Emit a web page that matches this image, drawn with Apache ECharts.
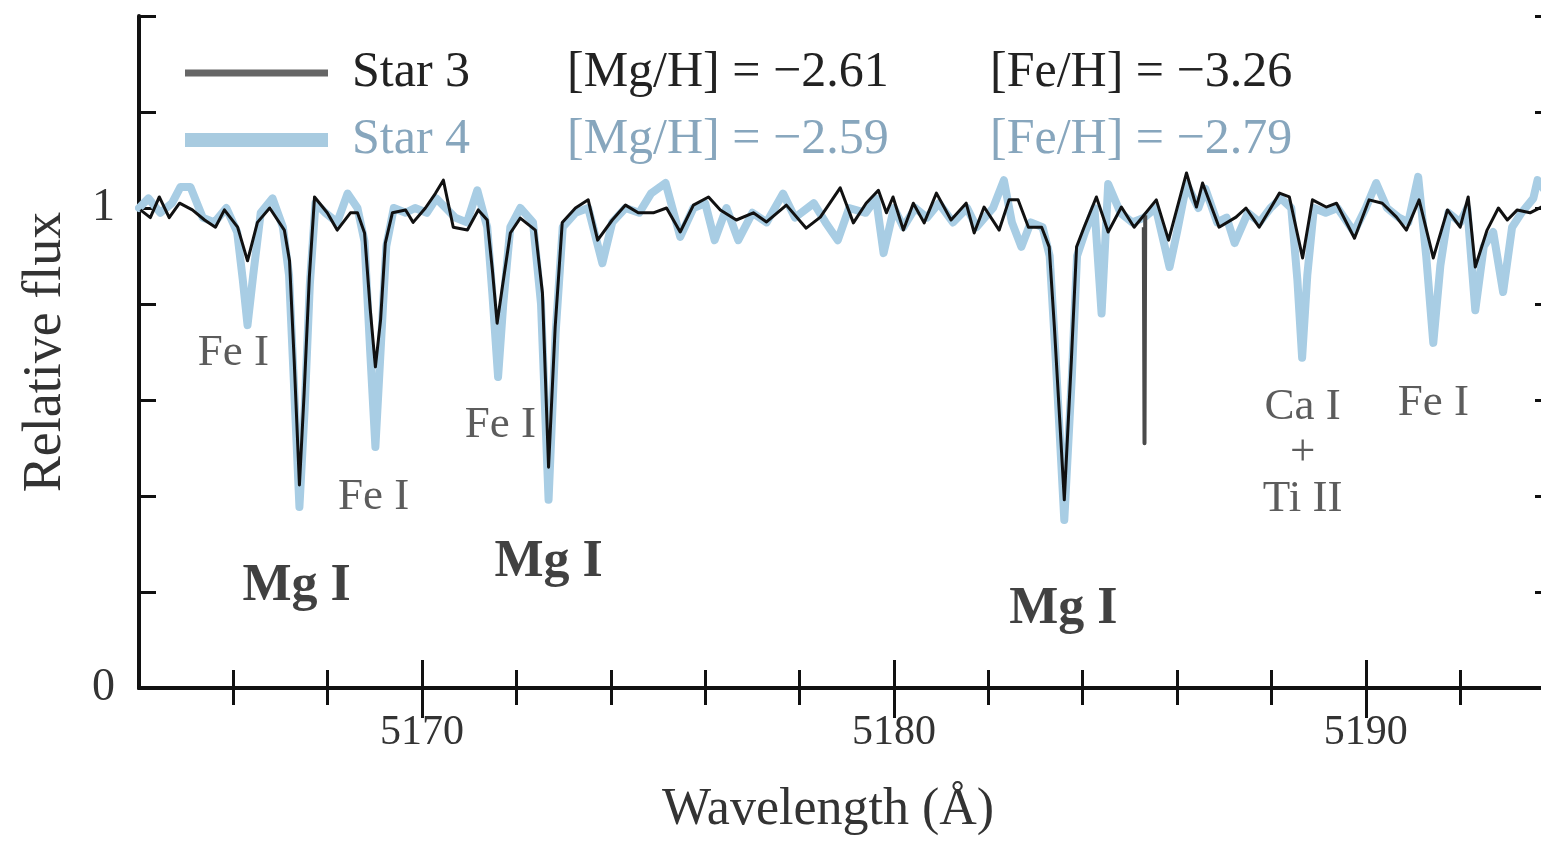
<!DOCTYPE html>
<html>
<head>
<meta charset="utf-8">
<script src="https://cdn.jsdelivr.net/npm/echarts@6/dist/echarts.min.js"></script>
<style>html,body{margin:0;padding:0;background:#fff;overflow:hidden;}#chart{width:1541px;height:864px;}</style>
</head>
<body>
<div id="chart"></div>
<script>
// ---- Data ----
const star3Wave = [
 5164.03,5164.24,5164.43,5164.64,5164.86,5165.13,5165.39,5165.62,5165.81,5166.09,
 5166.30,5166.51,5166.77,5167.08,5167.19,5167.29,5167.40,5167.50,5167.61,5167.72,
 5167.99,5168.20,5168.48,5168.63,5168.78,5168.90,5169.01,5169.12,5169.22,5169.37,
 5169.65,5169.81,5170.07,5170.28,5170.45,5170.66,5170.96,5171.19,5171.38,5171.49,
 5171.59,5171.70,5171.87,5172.08,5172.40,5172.55,5172.68,5172.82,5172.97,5173.25,
 5173.52,5173.72,5174.03,5174.31,5174.58,5174.90,5175.18,5175.47,5175.75,5176.07,
 5176.32,5176.66,5177.02,5177.30,5177.72,5178.14,5178.44,5178.86,5179.14,5179.41,
 5179.67,5179.84,5179.98,5180.20,5180.41,5180.64,5180.90,5181.21,5181.53,5181.70,
 5181.91,5182.23,5182.44,5182.63,5182.85,5183.13,5183.29,5183.40,5183.61,5183.76,
 5183.87,5184.03,5184.29,5184.54,5184.82,5185.09,5185.56,5185.82,5186.20,5186.41,
 5186.54,5186.89,5187.25,5187.46,5187.74,5187.96,5188.17,5188.38,5188.66,5188.87,
 5189.16,5189.38,5189.76,5190.07,5190.35,5190.65,5190.86,5191.13,5191.43,5191.73,
 5192.00,5192.17,5192.32,5192.57,5192.81,5193.00,5193.21,5193.48,5193.72,5193.84
];
const star3Flux = [
 0.996,0.980,1.023,0.980,1.010,0.996,0.975,0.960,0.996,0.960,
 0.890,0.970,1.000,0.954,0.890,0.680,0.423,0.615,0.856,1.023,
 0.990,0.954,0.990,0.990,0.948,0.790,0.669,0.767,0.927,0.990,
 0.996,0.970,1.000,1.030,1.058,0.960,0.954,0.996,0.975,0.870,
 0.760,0.835,0.948,0.979,0.954,0.823,0.460,0.752,0.970,1.000,
 1.017,0.933,0.975,1.006,0.990,0.990,1.000,0.950,1.006,1.023,
 0.996,0.975,0.990,0.971,1.006,0.958,0.981,1.042,0.969,1.010,
 1.037,0.990,1.023,0.954,1.010,0.969,1.031,0.975,1.010,0.948,
 1.002,0.954,1.017,1.017,0.960,0.960,0.919,0.752,0.392,0.683,
 0.919,0.960,1.023,0.950,1.002,0.960,1.017,0.933,1.073,1.002,
 1.052,0.960,0.981,1.000,0.960,0.996,1.031,1.023,0.896,1.017,
 1.002,1.010,0.937,1.017,1.010,0.981,0.954,1.017,0.896,0.996,
 0.960,1.023,0.877,0.954,1.000,0.975,0.996,0.990,1.002,1.000
];
const star4Wave = [
 5164.00,5164.20,5164.45,5164.70,5164.88,5165.09,5165.35,5165.60,5165.85,5166.08,
 5166.20,5166.30,5166.42,5166.58,5166.83,5167.05,5167.18,5167.29,5167.40,5167.51,
 5167.62,5167.74,5167.95,5168.20,5168.42,5168.63,5168.78,5168.90,5169.01,5169.13,
 5169.24,5169.40,5169.65,5169.85,5170.10,5170.30,5170.50,5170.70,5170.95,5171.17,
 5171.38,5171.49,5171.61,5171.72,5171.87,5172.08,5172.35,5172.52,5172.68,5172.83,
 5172.98,5173.25,5173.52,5173.82,5174.03,5174.31,5174.60,5174.85,5175.16,5175.47,
 5175.75,5176.00,5176.20,5176.45,5176.70,5177.00,5177.30,5177.65,5177.90,5178.30,
 5178.55,5178.81,5179.05,5179.40,5179.62,5179.78,5180.00,5180.20,5180.45,5180.70,
 5180.95,5181.25,5181.55,5181.75,5182.10,5182.33,5182.50,5182.70,5182.90,5183.15,
 5183.30,5183.42,5183.61,5183.77,5183.88,5184.05,5184.25,5184.40,5184.54,5184.80,
 5185.05,5185.30,5185.55,5185.84,5186.00,5186.20,5186.45,5186.60,5186.85,5187.05,
 5187.22,5187.50,5187.75,5187.98,5188.20,5188.42,5188.55,5188.65,5188.76,5188.90,
 5189.15,5189.40,5189.75,5190.00,5190.22,5190.45,5190.70,5190.90,5191.11,5191.28,
 5191.43,5191.58,5191.75,5192.00,5192.15,5192.32,5192.50,5192.70,5192.91,5193.10,
 5193.30,5193.55,5193.64,5193.84
];
const star4Flux = [
 1.000,1.020,0.990,1.010,1.044,1.044,0.980,0.970,1.000,0.950,
 0.850,0.756,0.860,0.990,1.020,0.960,0.860,0.620,0.377,0.580,
 0.840,1.010,0.990,0.970,1.030,1.000,0.930,0.700,0.502,0.720,
 0.920,1.000,0.990,1.000,0.990,1.020,1.000,0.980,0.970,1.037,
 0.960,0.820,0.648,0.800,0.960,1.000,0.970,0.800,0.392,0.740,
 0.960,0.990,1.000,0.885,0.970,1.000,0.990,1.030,1.052,0.940,
 1.000,1.010,0.933,1.000,0.933,0.990,0.970,1.030,0.980,1.010,
 0.970,0.933,1.000,0.990,1.020,0.906,1.000,0.960,1.000,0.980,
 1.010,0.970,1.000,0.960,1.000,1.058,0.970,0.919,0.970,0.960,
 0.900,0.700,0.350,0.650,0.900,0.950,1.000,0.780,1.050,0.990,
 0.970,0.980,1.000,0.877,0.950,1.050,1.000,1.040,0.970,0.980,
 0.927,0.990,0.970,1.000,1.020,1.000,0.850,0.688,0.860,1.000,
 0.990,1.000,0.950,1.000,1.052,1.000,0.980,0.970,1.065,0.900,
 0.719,0.880,0.990,0.970,1.000,0.787,0.920,0.950,0.825,0.960,
 0.990,1.020,1.058,1.030
];
// narrow masked feature (grey) in Star 3
const maskWave = [5185.295, 5185.31, 5185.325];
const maskFlux = [0.960, 0.510, 0.985];

// legend texts
const legendNames = ['Star 3', 'Star 4'];
const mgValues = ['[Mg/H] = \u22122.61', '[Mg/H] = \u22122.59'];
const feValues = ['[Fe/H] = \u22123.26', '[Fe/H] = \u22122.79'];

// line annotations
const annoText = ['Fe I', 'Mg I', 'Fe I', 'Fe I', 'Mg I', 'Mg I', 'Ca I\n+\nTi II', 'Fe I'];
const annoWave = [5166.0, 5167.34, 5168.97, 5171.66, 5172.68, 5183.59, 5188.66, 5191.43];
const annoFlux = [0.697, 0.212, 0.397, 0.548, 0.262, 0.163, 0.490, 0.594];
const annoBold = [false, true, false, false, true, true, false, false];

// axis ticks
const xMajorTicks = [5170, 5180, 5190];
const xMinorTicks = [5166, 5168, 5172, 5174, 5176, 5178, 5182, 5184, 5186, 5188, 5192];
const yLabelTicks = [0, 1];

// ---- Chart ----
const FONT = 'Liberation Serif';
const zip = (a, b) => a.map((v, i) => [v, b[i]]);
const X_MIN = 5164, X_MAX = 5193.84;
const gridBox = { left: 139, width: 1408, top: 16, bottom: 176, outerBoundsMode: 'none', containLabel: false };
const AX = '#111';

const chart = echarts.init(document.getElementById('chart'));

const baseX = { type: 'value', min: X_MIN, max: X_MAX, splitLine: { show: false } };
const baseY = { type: 'value', min: 0, max: 1.4, interval: 0.2, splitLine: { show: false } };

const option = {
  animation: false,
  backgroundColor: '#fff',
  grid: [Object.assign({}, gridBox), Object.assign({}, gridBox)],
  legend: legendNames.map((name, i) => ({
    data: [{ name: name, itemStyle: { color: i === 0 ? '#666' : '#a8cbe0' } }],
    selectedMode: false,
    left: 185,
    top: i === 0 ? 48 : 115,
    padding: 0,
    icon: 'rect',
    itemWidth: 143,
    itemHeight: i === 0 ? 7 : 14,
    formatter: n => '{g| }{n|' + n + '}{m|' + mgValues[i] + '}{f|' + feValues[i] + '}',
    textStyle: {
      fontFamily: FONT, fontSize: 50, color: i === 0 ? '#222' : '#87a6bd',
      rich: {
        g: { width: 19, fontSize: 50, lineHeight: 56 },
        n: { width: 215, fontSize: 50, lineHeight: 56, fontFamily: FONT },
        m: { width: 423, fontSize: 50, lineHeight: 56, fontFamily: FONT },
        f: { fontSize: 50, lineHeight: 56, fontFamily: FONT }
      }
    }
  })),
  xAxis: [
    Object.assign({}, baseX, {
      gridIndex: 0, position: 'bottom',
      axisLine: { show: true, lineStyle: { color: AX, width: 4 } },
      axisTick: { show: true, inside: true, length: 28, customValues: xMajorTicks, lineStyle: { color: AX, width: 3 } },
      axisLabel: { show: true, customValues: xMajorTicks, formatter: v => String(v), margin: 24, fontFamily: FONT, fontSize: 42, color: '#333' },
      name: 'Wavelength (\u00C5)', nameLocation: 'middle', nameGap: 96,
      nameTextStyle: { fontFamily: FONT, fontSize: 52, color: '#333', padding: [0, 30, 0, 0] }
    }),
    Object.assign({}, baseX, {
      gridIndex: 0, position: 'top',
      axisLine: { show: true, lineStyle: { color: AX, width: 4 } },
      axisTick: { show: true, inside: true, length: 30, customValues: xMajorTicks, lineStyle: { color: AX, width: 3 } },
      axisLabel: { show: false }
    }),
    Object.assign({}, baseX, {
      gridIndex: 1, position: 'bottom',
      axisLine: { show: false },
      axisTick: { show: true, inside: true, length: 18, customValues: xMinorTicks, lineStyle: { color: AX, width: 3 } },
      axisLabel: { show: false }
    }),
    Object.assign({}, baseX, {
      gridIndex: 1, position: 'top',
      axisLine: { show: false },
      axisTick: { show: true, inside: true, length: 17, customValues: xMinorTicks, lineStyle: { color: AX, width: 3 } },
      axisLabel: { show: false }
    })
  ],
  yAxis: [
    Object.assign({}, baseY, {
      gridIndex: 0, position: 'left',
      axisLine: { show: true, lineStyle: { color: AX, width: 4 } },
      axisTick: { show: true, inside: true, length: 17, lineStyle: { color: AX, width: 3 } },
      axisLabel: { show: true, customValues: yLabelTicks, formatter: v => String(Math.round(v)), margin: 24, fontFamily: FONT, fontSize: 46, color: '#333' },
      name: 'Relative flux', nameLocation: 'middle', nameGap: 66,
      nameTextStyle: { fontFamily: FONT, fontSize: 54, color: '#333' }
    }),
    Object.assign({}, baseY, {
      gridIndex: 0, position: 'right',
      axisLine: { show: true, lineStyle: { color: AX, width: 4 } },
      axisTick: { show: true, inside: true, length: 12, lineStyle: { color: AX, width: 3 } },
      axisLabel: { show: false }
    }),
    Object.assign({}, baseY, { gridIndex: 1, show: false }),
    Object.assign({}, baseY, { gridIndex: 1, show: false, position: 'right' })
  ],
  series: [
    {
      name: 'Star 4', type: 'line', xAxisIndex: 0, yAxisIndex: 0,
      data: zip(star4Wave, star4Flux), showSymbol: false, symbol: 'none', silent: true,
      lineStyle: { color: '#a8cde4', width: 8, join: 'round', cap: 'round' },
      itemStyle: { color: '#a8cde4' }, z: 2
    },
    {
      name: 'Star 3 mask', type: 'line', xAxisIndex: 0, yAxisIndex: 0,
      data: zip(maskWave, maskFlux), showSymbol: false, symbol: 'none', silent: true,
      lineStyle: { color: '#4a4a4a', width: 4, join: 'round' }, z: 3
    },
    {
      name: 'Star 3', type: 'line', xAxisIndex: 0, yAxisIndex: 0,
      data: zip(star3Wave, star3Flux), showSymbol: false, symbol: 'none', silent: true,
      lineStyle: { color: '#111', width: 3, join: 'round' },
      itemStyle: { color: '#111' }, z: 4
    },
    {
      name: 'labels', type: 'scatter', xAxisIndex: 0, yAxisIndex: 0,
      symbolSize: 0, silent: true, z: 5,
      data: annoText.map((t, i) => ({
        name: t, value: [annoWave[i], annoFlux[i]],
        label: {
          show: true, position: 'inside', formatter: '{b}',
          fontFamily: FONT, fontSize: annoBold[i] ? 52 : 45,
          fontWeight: annoBold[i] ? 'bold' : 'normal',
          color: annoBold[i] ? '#111' : '#333', lineHeight: 46, align: 'center'
        }
      }))
    }
  ]
};
chart.setOption(option);
</script>
</body>
</html>
